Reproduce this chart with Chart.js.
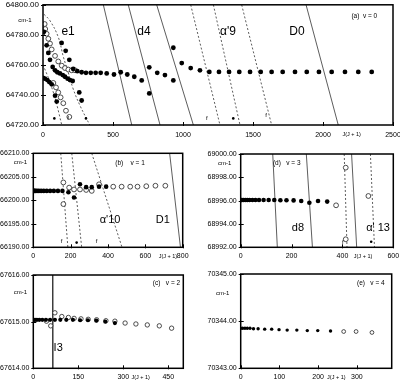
<!DOCTYPE html>
<html><head><meta charset="utf-8">
<script src="https://cdn.jsdelivr.net/npm/chart.js@4"></script>
<style>
html,body{margin:0;padding:0;background:#fff;width:400px;height:381px;overflow:hidden}
canvas{position:absolute}
</style></head><body>
<canvas id="ca" style="left:0;top:0" width="400" height="140"></canvas>
<canvas id="cb" style="left:0;top:140px" width="200" height="122"></canvas>
<canvas id="cd" style="left:200px;top:140px" width="200" height="122"></canvas>
<canvas id="cc" style="left:0;top:262px" width="200" height="119"></canvas>
<canvas id="ce" style="left:200px;top:262px" width="200" height="119"></canvas>
<script>
// ---------- Panel (a) v = 0 ----------
const aXTicks = [0, 500, 1000, 1500, 2000, 2500];
const aYTicks = [64720, 64740, 64760, 64780, 64800];
const aFilledJ = [7, 26, 38, 50, 69, 86, 102, 121, 141, 157, 176, 193, 212, 259, 276,
  0, 14, 31, 45, 62, 86, 98,
  133, 162, 188, 216,
  245, 276, 307, 341, 376, 412, 455, 507, 555, 602, 652, 705, 759, 759, 816, 871, 931, 931, 991, 1055, 1121,
  1188, 1257, 1329, 1402, 1479, 1555, 1633, 1712, 1800, 1884, 1971, 2062, 2157, 2252, 2348];
const aFilledE = [64782, 64773, 64768, 64763.4, 64758.6, 64756.4, 64755.1, 64754.3, 64753.2, 64752.1, 64750.8, 64749.9, 64749.3, 64741.7, 64736.3,
  64751.4, 64750.8, 64749.9, 64748.6, 64747.1, 64739.5, 64735.6,
  64774.6, 64769.4, 64763.4, 64757.3,
  64755.8, 64755.1, 64754.7, 64754.7, 64754.7, 64754.7, 64754.3, 64753.6, 64755.1, 64753.6, 64752.1, 64749.7, 64758.4, 64741.0, 64754.7, 64753.2, 64749.7, 64771.4, 64761.2, 64757.9, 64756.4,
  64755.3, 64755.3, 64755.3, 64755.3, 64755.3, 64755.3, 64755.3, 64755.3, 64755.3, 64755.3, 64755.3, 64755.3, 64755.3, 64755.3, 64755.3];
const aOpenJ = [12, 16, 26, 38, 50, 62, 86, 109, 134, 157, 181, 205, 229, 74, 93, 109, 126, 145, 164, 188];
const aOpenE = [64787.2, 64783.9, 64780.7, 64777.4, 64774.2, 64770.3, 64766, 64762.3, 64759.5, 64757.9, 64756.9, 64756.4, 64756.4, 64748, 64745, 64741.7, 64738.4, 64734.5, 64729.5, 64725.4];
const aStarJ = [81, 307, 1359];
const aStarE = [64724.4, 64724.4, 64724.4];
const aE1J = [7, 50, 109, 145, 181, 216, 264, 336];
const aE1E = [64793.7, 64789.4, 64778.5, 64765.5, 64754.7, 64743.9, 64733, 64719.6];
const aE1bJ = [0, 40, 86, 134];
const aE1bE = [64760, 64751, 64738, 64720];
const aSolidTop = [431, 609, 812, 1879];
const aSolidBot = [634, 836, 1074, 2109];
const aDashTop = [1055, 1217, 1419];
const aDashBot = [1264, 1407, 1633];

// ---------- Panel (b) v = 1 ----------
const bXTicks = [0, 200, 400, 600, 800];
const bYTicks = [66190, 66195, 66200, 66205, 66210];
const bFilledJ = [0, 2, 6, 12, 20, 30, 42, 56, 72, 90, 110, 132, 156, 188, 218, 250, 283, 313, 352, 390];
const bFilledE = [66202, 66202, 66202, 66202, 66202, 66202, 66202, 66202, 66202, 66202, 66202, 66202, 66202, 66201.7, 66200.6, 66203.4, 66202.8, 66202.8, 66202.9, 66202.9];
const bOpenJ = [161, 161, 192, 218, 250, 283, 313, 352, 428, 473, 519, 558, 605, 654, 707];
const bOpenE = [66203.8, 66199.2, 66202.7, 66202.3, 66202.3, 66202.2, 66202, 66203.4, 66202.9, 66202.9, 66202.9, 66202.9, 66203, 66203.1, 66203.1];
const bStarJ = [232];
const bStarE = [66191];
const bSolidTop = [730];
const bSolidBot = [788];
const bDashTop = [147, 206, 313];
const bDashBot = [185, 259, 475];

// ---------- Panel (d) v = 3 ----------
const dXTicks = [0, 200, 400, 600];
const dYTicks = [68992, 68994, 68996, 68998, 69000];
const dFilledJ = [0, 5, 11, 18, 26, 35, 46, 58, 72, 90, 110, 132, 156, 180, 208, 238, 270, 304, 340];
const dFilledE = [68996.05, 68996.05, 68996.05, 68996.05, 68996.05, 68996.05, 68996.05, 68996.05, 68996.05, 68996.05, 68996.05, 68996.05, 68996.03, 68996.03, 68996.02, 68995.97, 68995.82, 68995.97, 68995.92];
const dOpenJ = [375, 413, 413, 502];
const dOpenE = [68995.6, 68998.83, 68992.69, 68996.4];
const dStarJ = [513];
const dStarE = [68992.48];
const dSolidTop = [126, 258, 436];
const dSolidBot = [144, 282, 456];
const dDashTop = [407, 510];
const dDashBot = [418, 526];

// ---------- Panel (c) v = 2 ----------
const cXTicks = [0, 150, 300, 450];
const cYTicks = [67614, 67615, 67616];
const cFilledJ = [0, 2, 6, 12, 20, 30, 42, 56, 72, 90, 110, 132, 156, 182, 210, 240, 272];
const cFilledE = [67615.04, 67615.04, 67615.04, 67615.04, 67615.04, 67615.04, 67615.04, 67615.04, 67615.04, 67615.04, 67615.04, 67615.04, 67615.03, 67615.03, 67615.02, 67615.0, 67614.97];
const cOpenJ = [44, 58, 72, 95, 117, 136, 159, 183, 211, 242, 272, 306, 342, 380, 420, 461];
const cOpenE = [67615.01, 67614.91, 67615.19, 67615.11, 67615.09, 67615.07, 67615.06, 67615.05, 67615.04, 67615.02, 67615.01, 67614.97, 67614.95, 67614.93, 67614.91, 67614.86];
const cSolidTop = [64];
const cSolidBot = [65];

// ---------- Panel (e) v = 4 ----------
const eXTicks = [0, 100, 200, 300];
const eYTicks = [70343, 70344, 70345];
const eFilledJ = [0, 5, 11, 17, 24, 33, 45, 62, 80, 99, 120, 145, 172, 199, 232];
const eFilledE = [70343.85, 70343.85, 70343.85, 70343.85, 70343.85, 70343.84, 70343.84, 70343.83, 70343.83, 70343.82, 70343.81, 70343.81, 70343.80, 70343.80, 70343.79];
const eOpenJ = [266, 298, 339];
const eOpenE = [70343.78, 70343.78, 70343.76];

// ---------- helpers ----------
const FONT = "'Liberation Sans', Arial, sans-serif";
function pts(xs, ys) { return xs.map((x, i) => ({x: x, y: ys[i]})); }
function filled(xs, ys, r) {
  return {data: pts(xs, ys), pointRadius: r, pointBackgroundColor: '#000', pointBorderColor: '#000', pointBorderWidth: 0, order: 1};
}
function open(xs, ys, r) {
  return {data: pts(xs, ys), pointRadius: r, pointBackgroundColor: '#fff', pointBorderColor: '#222', pointBorderWidth: 0.8, order: 2};
}
function line(xs, ys, dash, tension) {
  return {data: pts(xs, ys), showLine: true, pointRadius: 0, borderColor: '#333', borderWidth: 0.8,
    borderDash: dash ? [2, 2] : [], tension: tension || 0, order: 5};
}
function crossLines(tops, bots, yMax, yMin, dash) {
  return tops.map((t, i) => line([t, bots[i]], [yMax, yMin], dash));
}

const deco = {
  id: 'deco',
  afterDatasetsDraw(chart, args, o) {
    const ctx = chart.ctx, xs = chart.scales.x, ys = chart.scales.y;
    ctx.save();
    ctx.fillStyle = '#000';
    (o.texts || []).forEach(t => {
      ctx.font = t.f + 'px ' + FONT;
      ctx.textAlign = 'center'; ctx.textBaseline = 'middle';
      ctx.fillText(t.s, xs.getPixelForValue(t.x), ys.getPixelForValue(t.y));
    });
    ctx.restore();
  },
  afterDraw(chart, args, o) {
    const ctx = chart.ctx, a = chart.chartArea, xs = chart.scales.x, ys = chart.scales.y;
    ctx.save();
    ctx.strokeStyle = '#000';
    ctx.lineWidth = 1.5;
    ctx.strokeRect(a.left, a.top, a.right - a.left, a.bottom - a.top);
    ctx.lineWidth = 1;
    xs.ticks.forEach(t => {
      const p = Math.round(xs.getPixelForValue(t.value)) + 0.5;
      ctx.beginPath(); ctx.moveTo(p, a.bottom + 1); ctx.lineTo(p, a.bottom - 3); ctx.stroke();
    });
    ys.ticks.forEach(t => {
      const p = Math.round(ys.getPixelForValue(t.value)) + 0.5;
      ctx.beginPath(); ctx.moveTo(a.left - 2, p); ctx.lineTo(a.left + 3, p); ctx.stroke();
    });
    ctx.fillStyle = '#000';
    ctx.font = o.cmFont + 'px ' + FONT;
    ctx.textAlign = 'center'; ctx.textBaseline = 'middle';
    ctx.fillText('cm-1', a.left - o.cmDx, a.top + o.cmDy);
    ctx.font = '5.5px ' + FONT;
    ctx.textBaseline = 'top';
    ctx.fillText('J(J + 1)', xs.getPixelForValue(o.jx), a.bottom + o.tickPad + 1);
    ctx.restore();
  }
};

function makePanel(id, p) {
  new Chart(document.getElementById(id), {
    type: 'scatter',
    data: {datasets: p.datasets},
    options: {
      responsive: false, animation: false, devicePixelRatio: 1,
      layout: {padding: {top: p.padTop, right: p.padRight, left: 0, bottom: 0}},
      plugins: {legend: {display: false}, tooltip: {enabled: false},
        deco: {texts: p.texts, cmDx: p.cmDx, cmDy: p.cmDy, cmFont: 6, tickPad: p.tickPad, jx: p.jx}},
      scales: {
        x: {type: 'linear', min: p.xMin, max: p.xMax,
          afterBuildTicks: s => { s.ticks = p.xTicks.map(v => ({value: v})); },
          afterFit: s => { s.height = p.xh; s.paddingLeft = 0; s.paddingRight = 0; },
          grid: {display: false, drawTicks: false, tickLength: 0}, border: {display: false},
          ticks: {color: '#000', font: {family: FONT, size: p.tickFont}, padding: p.tickPad, maxRotation: 0, autoSkip: false,
            callback: v => String(v)}},
        y: {type: 'linear', min: p.yMin, max: p.yMax,
          afterBuildTicks: s => { s.ticks = p.yTicks.map(v => ({value: v})); },
          afterFit: s => { s.width = p.yw; s.paddingTop = 0; s.paddingBottom = 0; },
          grid: {display: false, drawTicks: false, tickLength: 0}, border: {display: false},
          ticks: {color: '#000', font: {family: FONT, size: p.yFont}, padding: 4, autoSkip: false,
            callback: v => Number(v).toFixed(2)}}
      }
    },
    plugins: [deco]
  });
}

// Panel (a)
makePanel('ca', {
  xMin: 0, xMax: 2500, yMin: 64720, yMax: 64800, xTicks: aXTicks, yTicks: aYTicks,
  padTop: 2, padRight: 7, yw: 43, xh: 15, tickFont: 7, yFont: 8, tickPad: 6, jx: 2205,
  cmDx: 18, cmDy: 16,
  datasets: [
    filled(aFilledJ, aFilledE, 2.4),
    open(aOpenJ, aOpenE, 2.4),
    filled(aStarJ, aStarE, 1.3),
    line(aE1J, aE1E, true, 0.4),
    line(aE1bJ, aE1bE, true, 0.3),
    ...crossLines(aSolidTop, aSolidBot, 64800, 64720, false),
    ...crossLines(aDashTop, aDashBot, 64800, 64720, true)
  ],
  texts: [
    {s: 'e1', x: 179, y: 64782.4, f: 12},
    {s: 'd4', x: 721, y: 64781.8, f: 12},
    {s: "α'9", x: 1321, y: 64782.4, f: 12},
    {s: 'D0', x: 1814, y: 64782.4, f: 12},
    {s: '(a)  v = 0', x: 2295, y: 64792.2, f: 6.5},
    {s: 'f', x: 179, y: 64724.5, f: 6},
    {s: 'f', x: 1171, y: 64724.5, f: 6},
    {s: 'f', x: 1593, y: 64726.5, f: 6}
  ]
});

// Panel (b)
makePanel('cb', {
  xMin: 0, xMax: 800, yMin: 66190, yMax: 66210, xTicks: bXTicks, yTicks: bYTicks,
  padTop: 13.3, padRight: 17.3, yw: 33.3, xh: 14.7, tickFont: 7, yFont: 7, tickPad: 5, jx: 721,
  cmDx: 13, cmDy: 9,
  datasets: [
    filled(bFilledJ, bFilledE, 2.3),
    open(bOpenJ, bOpenE, 2.4),
    filled(bStarJ, bStarE, 1.3),
    ...crossLines(bSolidTop, bSolidBot, 66210, 66190, false),
    ...crossLines(bDashTop, bDashBot, 66210, 66190, true)
  ],
  texts: [
    {s: '(b)    v = 1', x: 518, y: 66207.9, f: 6.5},
    {s: "α'10", x: 411, y: 66195.8, f: 11},
    {s: 'D1', x: 694, y: 66195.8, f: 11},
    {s: 'f', x: 152, y: 66191.2, f: 6},
    {s: 'f', x: 339, y: 66191.2, f: 6}
  ]
});

// Panel (d)
makePanel('cd', {
  xMin: 0, xMax: 600, yMin: 68992, yMax: 69000, xTicks: dXTicks, yTicks: dYTicks,
  padTop: 14, padRight: 6.7, yw: 40.7, xh: 14.7, tickFont: 7, yFont: 7, tickPad: 5, jx: 481,
  cmDx: 16, cmDy: 9,
  datasets: [
    filled(dFilledJ, dFilledE, 2.3),
    open(dOpenJ, dOpenE, 2.4),
    filled(dStarJ, dStarE, 1.3),
    ...crossLines(dSolidTop, dSolidBot, 69000, 68992, false),
    ...crossLines(dDashTop, dDashBot, 69000, 68992, true)
  ],
  texts: [
    {s: '(d)   v = 3', x: 181, y: 68999.2, f: 6.5},
    {s: 'd8', x: 225, y: 68993.7, f: 11},
    {s: "α' 13", x: 540, y: 68993.7, f: 11},
    {s: 'f', x: 402, y: 68992.4, f: 6}
  ]
});

// Panel (c)
makePanel('cc', {
  xMin: 0, xMax: 500, yMin: 67614, yMax: 67616, xTicks: cXTicks, yTicks: cYTicks,
  padTop: 13, padRight: 16.7, yw: 33.3, xh: 12.7, tickFont: 7, yFont: 7, tickPad: 5, jx: 358,
  cmDx: 13, cmDy: 17,
  datasets: [
    filled(cFilledJ, cFilledE, 2.1),
    open(cOpenJ, cOpenE, 2.2),
    ...crossLines(cSolidTop, cSolidBot, 67616.2, 67614, false)
  ],
  texts: [
    {s: '(c)   v = 2', x: 444, y: 67615.83, f: 6.5},
    {s: 'I3', x: 83, y: 67614.44, f: 11}
  ]
});

// Panel (e)
makePanel('ce', {
  xMin: 0, xMax: 390, yMin: 70343, yMax: 70345, xTicks: eXTicks, yTicks: eYTicks,
  padTop: 12, padRight: 8.3, yw: 40.7, xh: 12.7, tickFont: 7, yFont: 7, tickPad: 5, jx: 247,
  cmDx: 18, cmDy: 19,
  datasets: [
    filled(eFilledJ, eFilledE, 1.7),
    open(eOpenJ, eOpenE, 1.9)
  ],
  texts: [
    {s: '(e)   v = 4', x: 336, y: 70344.81, f: 6.5}
  ]
});
</script>
</body></html>
